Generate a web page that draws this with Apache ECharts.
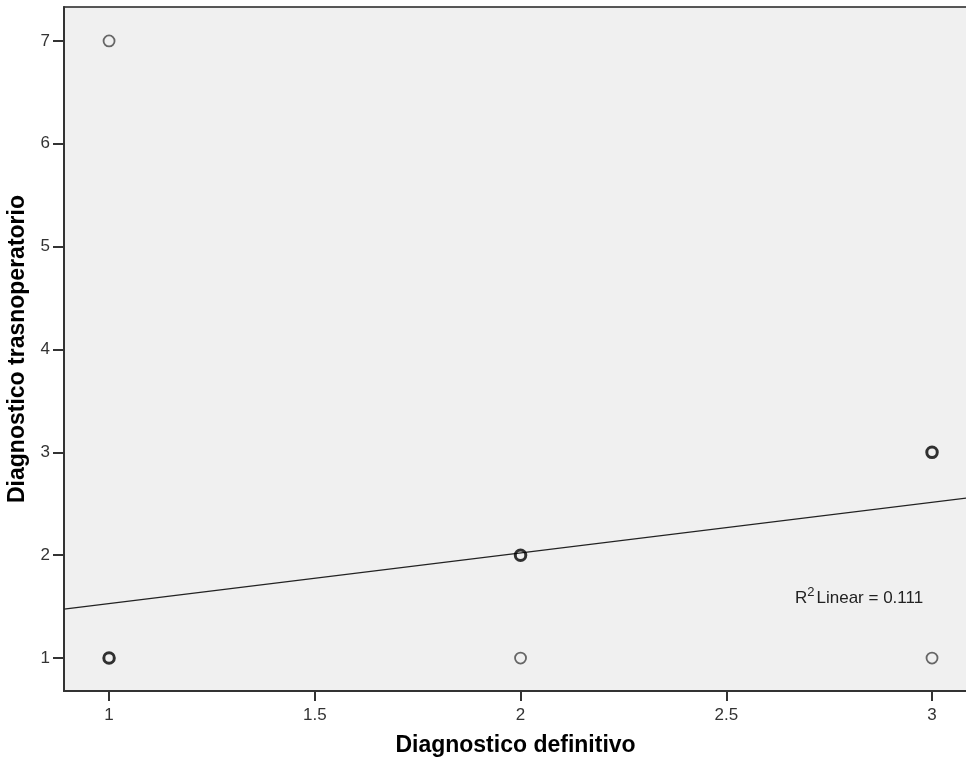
<!DOCTYPE html>
<html>
<head>
<meta charset="utf-8">
<script src="https://cdn.jsdelivr.net/npm/echarts@6/dist/echarts.min.js"></script>
<style>
  html, body { margin: 0; padding: 0; background: #fff; }
  #main { width: 966px; height: 767px; }
</style>
</head>
<body>
<div id="main"></div>
<script>
var xTicks = [1, 1.5, 2, 2.5, 3];
var yTicks = [1, 2, 3, 4, 5, 6, 7];
// single cases
var singlePts = [[1, 7], [2, 1], [3, 1]];
// repeated cases (drawn bolder)
var repeatPts = [[1, 1], [2, 2], [3, 3]];
// fit line end points
var fitLine = [[0.8905, 1.476], [3.085, 2.556]];
var r2Text = '0.111';

var mychart = echarts.init(document.getElementById('main'));
var font = 'Liberation Sans, Arial, sans-serif';
var option = {
  animation: false,
  grid: {
    left: 64, top: 7, right: -1, bottom: 76,
    outerBoundsMode: 'none',
    containLabel: false,
    show: true,
    backgroundColor: '#f0f0f0',
    borderColor: '#222',
    borderWidth: 1.5
  },
  xAxis: {
    type: 'value',
    min: 0.8905,
    max: 3.085,
    name: 'Diagnostico definitivo',
    nameLocation: 'middle',
    nameGap: 43,
    nameTextStyle: { fontFamily: font, fontSize: 23, fontWeight: 'bold', color: '#000' },
    axisLine: { show: true, onZero: false, lineStyle: { color: '#333', width: 2 } },
    axisTick: { show: true, length: 10, customValues: xTicks, lineStyle: { color: '#333', width: 2 } },
    axisLabel: { customValues: xTicks, fontFamily: font, fontSize: 17, color: '#333', margin: 16 },
    splitLine: { show: false }
  },
  yAxis: {
    type: 'value',
    min: 0.68,
    max: 7.33,
    name: 'Diagnostico trasnoperatorio',
    nameLocation: 'middle',
    nameGap: 32,
    nameTextStyle: { fontFamily: font, fontSize: 23, fontWeight: 'bold', color: '#000' },
    axisLine: { show: true, onZero: false, lineStyle: { color: '#333', width: 2 } },
    axisTick: { show: true, length: 11, customValues: yTicks, lineStyle: { color: '#333', width: 2 } },
    axisLabel: { customValues: yTicks, fontFamily: font, fontSize: 17, color: '#333', margin: 14 },
    splitLine: { show: false }
  },
  series: [
    {
      type: 'line',
      data: fitLine,
      symbol: 'none',
      lineStyle: { color: '#222', width: 1.2 },
      z: 2
    },
    {
      type: 'scatter',
      data: singlePts,
      symbol: 'circle',
      symbolSize: 11,
      itemStyle: { color: 'transparent', borderColor: '#444', borderWidth: 1.8 },
      z: 3
    },
    {
      type: 'scatter',
      data: repeatPts,
      symbol: 'circle',
      symbolSize: 10.5,
      itemStyle: { color: 'transparent', borderColor: '#000', borderWidth: 3 },
      z: 3
    }
  ],
  graphic: [
    {
      type: 'text',
      left: 795,
      top: 586,
      style: {
        text: '{a|R}{s|2}{a|Linear = ' + r2Text + '}',
        rich: {
          a: { fontFamily: font, fontSize: 17, fill: '#222', verticalAlign: 'bottom' },
          s: { fontFamily: font, fontSize: 13, fill: '#222', verticalAlign: 'top', padding: [0, 2, 8, 0] }
        }
      }
    }
  ]
};
mychart.setOption(option);
</script>
</body>
</html>
